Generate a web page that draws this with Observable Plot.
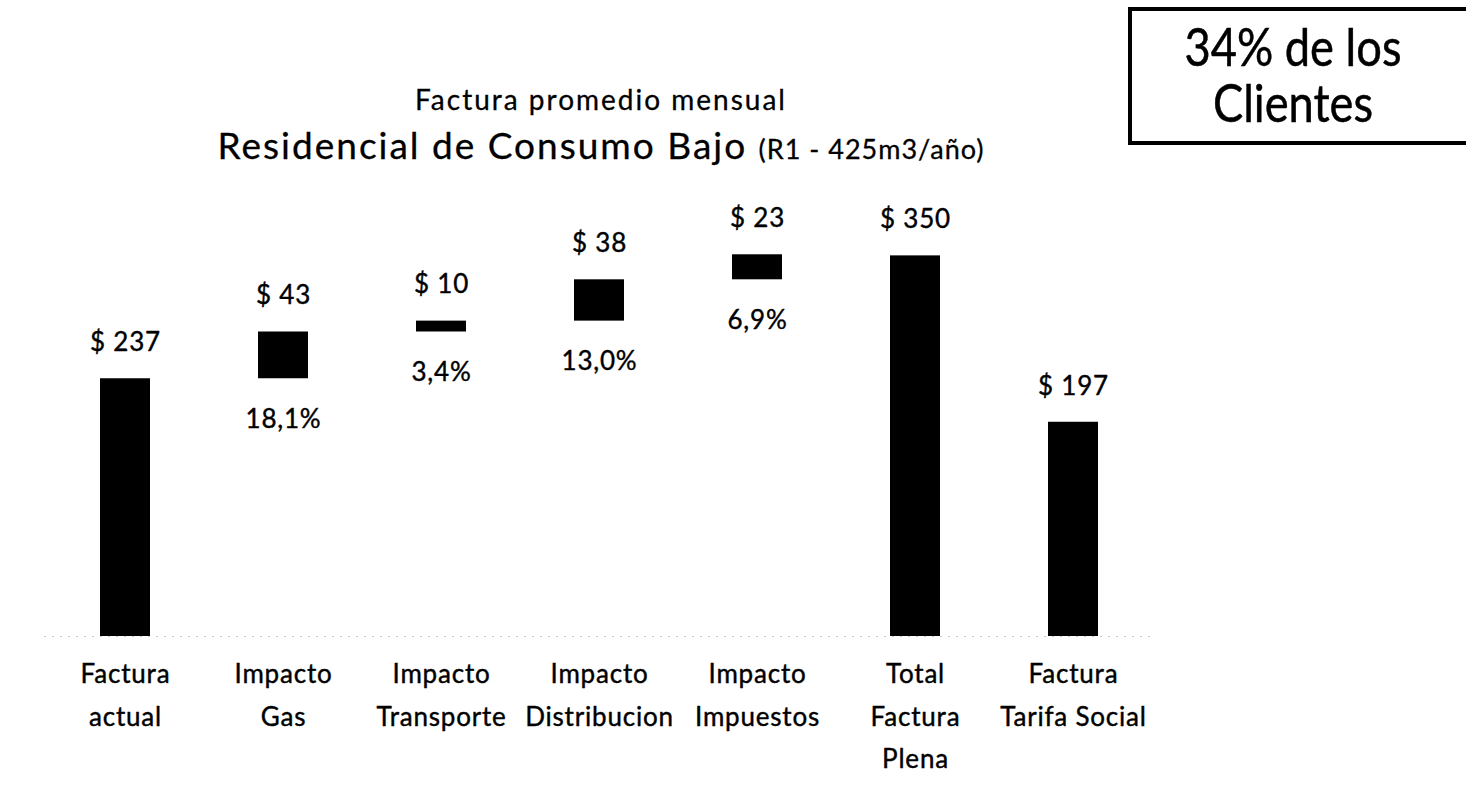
<!DOCTYPE html>
<html>
<head>
<meta charset="utf-8">
<script src="https://cdn.jsdelivr.net/npm/d3@7"></script>
<script src="https://cdn.jsdelivr.net/npm/@observablehq/plot@0.6"></script>
<style>
  html, body { margin: 0; padding: 0; background: #fff; width: 1466px; height: 799px; overflow: hidden; font-family: Lato, "Open Sans", sans-serif; color: #000; }
  #chart { position: absolute; left: 0; top: 0; }
  .t1 { position: absolute; left: 0; width: 1202px; text-align: center; top: 82px; font-size: 28px; letter-spacing: 2px; white-space: nowrap; -webkit-text-stroke: 0.3px #000; }
  .t2 { position: absolute; left: 0; width: 1202px; text-align: center; top: 122px; font-size: 37px; letter-spacing: 2px; white-space: nowrap; -webkit-text-stroke: 0.3px #000; }
  .t2 small { font-size: 27px; letter-spacing: 1px; }
  .box { position: absolute; left: 1128px; top: 7px; width: 360px; height: 138px; border: 4px solid #000; box-sizing: border-box; }
  .box div { position: absolute; left: 0; top: 7px; width: 322px; text-align: center; font-size: 52px; line-height: 56px; white-space: nowrap; -webkit-text-stroke: 0.5px #000; transform: scaleX(0.87); transform-origin: 50% 50%; }
</style>
</head>
<body>
<div id="chart"></div>
<div class="t1">Factura promedio mensual</div>
<div class="t2">Residencial de Consumo Bajo <small>(R1 - 425m3/año)</small></div>
<div class="box"><div>34% de los<br>Clientes</div></div>
<script>
const categorias = ["Factura\nactual", "Impacto\nGas", "Impacto\nTransporte", "Impacto\nDistribucion", "Impacto\nImpuestos", "Total\nFactura\nPlena", "Factura\nTarifa Social"];
const tipos = ["total", "delta", "delta", "delta", "delta", "total", "total"];
const valores = [237, 43, 10, 38, 23, 350, 197];
const porcentajes = ["", "18,1%", "3,4%", "13,0%", "6,9%", "", ""];

let acumulado = 0;
const datos = categorias.map((cat, i) => {
  let y1, y2;
  if (tipos[i] === "delta") { y1 = acumulado; y2 = acumulado + valores[i]; acumulado = y2; }
  else { y1 = 0; y2 = valores[i]; if (i === 0) acumulado = valores[i]; }
  return { cat, y1, y2, etiqueta: "$ " + valores[i], pct: porcentajes[i] };
});

const chart = Plot.plot({
  width: 1466,
  height: 799,
  marginLeft: 44,
  marginRight: 312,
  marginTop: 201,
  marginBottom: 163,
  style: { fontFamily: "Lato, 'Open Sans', sans-serif", background: "transparent", color: "#000", letterSpacing: "0.8px" },
  x: { domain: categorias, paddingInner: 0.685, paddingOuter: 0.3425, axis: null },
  y: { domain: [0, 400], axis: null },
  marks: [
    Plot.ruleY([0], { stroke: "#ccc", strokeDasharray: "2,6" }),
    Plot.barY(datos, { x: "cat", y1: "y1", y2: "y2", fill: "#000" }),
    Plot.text(datos, { x: "cat", y: "y2", text: "etiqueta", dy: -36, fontSize: 26, fill: "#000", stroke: "#000", strokeWidth: 0.4 }),
    Plot.text(datos.filter(d => d.pct), { x: "cat", y: "y1", text: "pct", dy: 41, fontSize: 26, fill: "#000", stroke: "#000", strokeWidth: 0.4 }),
    Plot.text(datos, { x: "cat", text: "cat", frameAnchor: "bottom", lineAnchor: "top", dy: 17, fontSize: 26, lineHeight: 1.62, fill: "#000", stroke: "#000", strokeWidth: 0.4 })
  ]
});
document.getElementById("chart").appendChild(chart);
</script>
</body>
</html>
